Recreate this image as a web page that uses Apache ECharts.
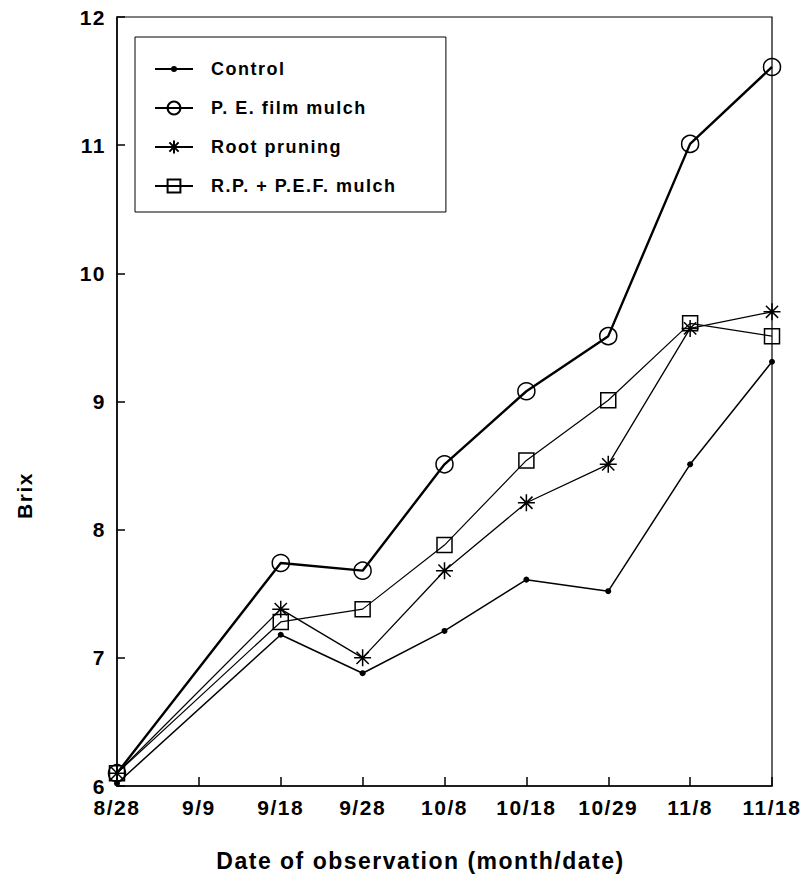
<!DOCTYPE html>
<html>
<head>
<meta charset="utf-8">
<script src="https://cdn.jsdelivr.net/npm/echarts@6/dist/echarts.min.js"></script>
<style>
  html, body { margin: 0; padding: 0; background: #fff; }
  #chart { width: 806px; height: 887px; }
  /* wide tracking of the bold lettering */
  #chart svg text { letter-spacing: 1.5px; }
</style>
</head>
<body>
<div id="chart"></div>
<script>
// Observation dates (9/9 has no measurement)
var dates = ['8/28', '9/9', '9/18', '9/28', '10/8', '10/18', '10/29', '11/8', '11/18'];
var yTicks = { min: 6, max: 12, step: 1 };

// Brix readings per treatment
var control     = [6.02, null, 7.18, 6.88, 7.21, 7.61, 7.52, 8.51, 9.31];
var peFilm      = [6.10, null, 7.74, 7.68, 8.51, 9.08, 9.51, 11.01, 11.61];
var rootPruning = [6.10, null, 7.38, 7.00, 7.68, 8.21, 8.51, 9.57, 9.70];
var rpPef       = [6.10, null, 7.28, 7.38, 7.88, 8.54, 9.01, 9.61, 9.51];

var FONT = '"Liberation Sans", Arial, Helvetica, sans-serif';
var asterisk = 'path://M0,-10L0,10M-10,0L10,0M-7.2,-7.2L7.2,7.2M-7.2,7.2L7.2,-7.2';
// legend key for Control: thin line with a small solid dot, in a 38x16 box
var controlKey = 'path://M0,0L0,0M38,16L38,16M0,7.1L38,7.1L38,8.9L0,8.9ZM16,8A3,3 0 1,1 22,8A3,3 0 1,1 16,8Z';

function lineSeries(name, data, symbol, size, lineWidth, fill, borderWidth) {
  return {
    name: name,
    type: 'line',
    data: data,
    connectNulls: true,
    symbol: symbol,
    symbolSize: size,
    showSymbol: true,
    animation: false,
    lineStyle: { color: '#000', width: lineWidth },
    itemStyle: { color: fill, borderColor: '#000', borderWidth: borderWidth, opacity: 1 },
    emphasis: { disabled: true }
  };
}

var chart = echarts.init(document.getElementById('chart'), null, { renderer: 'svg' });
chart.setOption({
  backgroundColor: '#fff',
  animation: false,
  grid: {
    left: 117, right: 34, top: 17, bottom: 101,
    show: true, borderColor: '#000', borderWidth: 1.2, backgroundColor: 'transparent'
  },
  legend: {
    orient: 'vertical',
    left: 135, top: 37,
    padding: [23, 78, 17, 19],
    itemGap: 21,
    itemWidth: 38,
    itemHeight: 16,
    borderColor: '#000',
    borderWidth: 1,
    backgroundColor: '#fff',
    selectedMode: false,
    textStyle: { fontFamily: FONT, fontSize: 18, fontWeight: 'bold', color: '#000', padding: [0, 0, 0, 13] },
    data: [
      { name: 'Control', icon: controlKey, itemStyle: { color: '#000', borderWidth: 0 } },
      'P. E. film mulch',
      'Root pruning',
      'R.P. + P.E.F. mulch'
    ]
  },
  xAxis: {
    type: 'category',
    data: dates,
    boundaryGap: false,
    axisLine: { lineStyle: { color: '#000', width: 1.5 } },
    axisTick: { inside: true, length: 9, alignWithLabel: true, lineStyle: { color: '#000', width: 1.5 } },
    axisLabel: { color: '#000', fontFamily: FONT, fontSize: 21, fontWeight: 'bold', margin: 11, interval: 0 },
    splitLine: { show: false },
    name: 'Date of observation (month/date)',
    nameLocation: 'middle',
    nameGap: 63,
    nameTextStyle: { color: '#000', fontFamily: FONT, fontSize: 23, fontWeight: 'bold', padding: [0, 48, 0, 0] }
  },
  yAxis: {
    type: 'value',
    min: yTicks.min, max: yTicks.max, interval: yTicks.step,
    axisLine: { show: true, lineStyle: { color: '#000', width: 1.5 } },
    axisTick: { show: true, inside: true, length: 8, lineStyle: { color: '#000', width: 1.5 } },
    axisLabel: { color: '#000', fontFamily: FONT, fontSize: 21, fontWeight: 'bold', margin: 11 },
    splitLine: { show: false },
    name: 'Brix',
    nameLocation: 'middle',
    nameGap: 82,
    nameTextStyle: { color: '#000', fontFamily: FONT, fontSize: 21, fontWeight: 'bold', padding: [0, 188, 0, 0] }
  },
  series: [
    lineSeries('Control', control, 'circle', 6, 1.5, '#000', 0),
    lineSeries('P. E. film mulch', peFilm, 'circle', 17, 2.4, 'rgba(0,0,0,0)', 1.5),
    lineSeries('Root pruning', rootPruning, asterisk, 17, 1.3, '#000', 1.5),
    lineSeries('R.P. + P.E.F. mulch', rpPef, 'rect', 15, 1.2, 'rgba(0,0,0,0)', 1.5)
  ]
});
</script>
</body>
</html>
